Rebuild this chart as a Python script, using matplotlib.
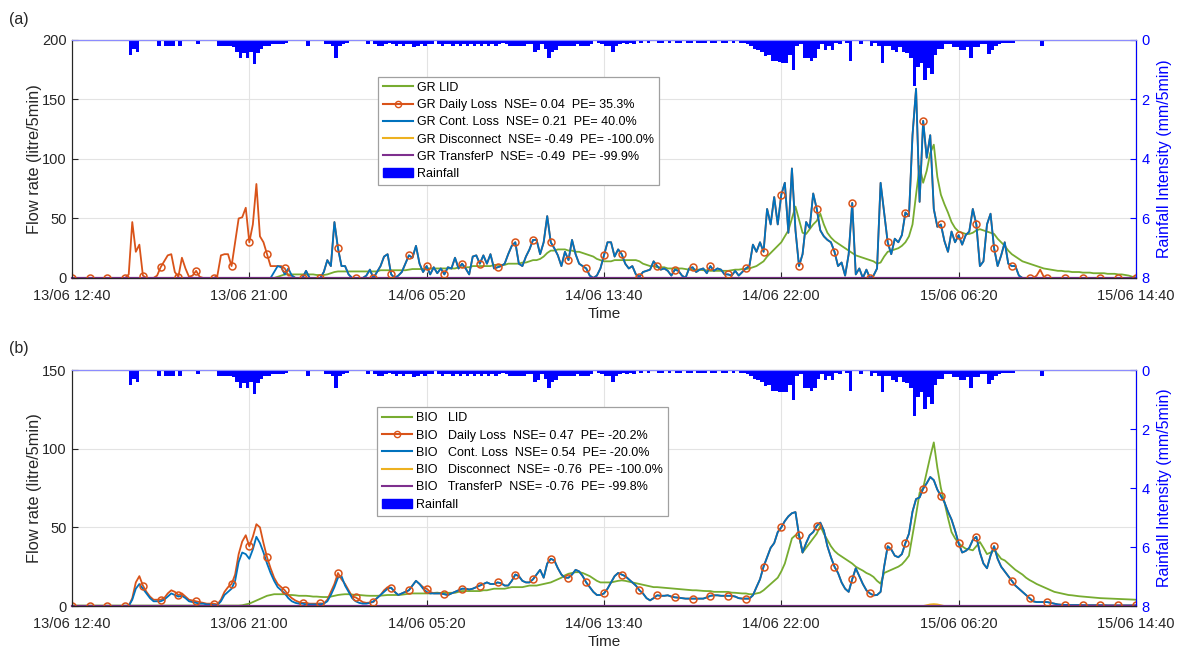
import numpy as np
import matplotlib
matplotlib.use('Agg')
import matplotlib.pyplot as plt
from matplotlib.patches import Patch
from matplotlib.lines import Line2D

plt.rcParams['font.family'] = ['Liberation Sans', 'DejaVu Sans']

# ---------------- data (10-minute samples from 13/06 12:40 to 15/06 14:40) ----------------
tick_labels = ['13/06 12:40', '13/06 21:00', '14/06 05:20', '14/06 13:40',
               '14/06 22:00', '15/06 06:20', '15/06 14:40']
step_min = 10

# ---- panel (a) GR ----
gr_lid = ([0]*50 +
  [0,0,0,0,0,0,0, 0,1,2, 3,3,3,3,3,3,3,3,3, 2.5,2.5,2.5, 3,4,5,5.5,
   5.5,5.5,5.5,5.5,5.5,5.5,5.5,5.5,5.5,5.5,5.5, 6.5,6.5,6.5,6.5,6.5,6.5,6.5,6.5, 7, 7.5,7.5,7.5,7.5] +
  [8,8,8,8,8,8,8,8,8,9, 9,9,9,10,10,10,10,10,10,11, 11,11,11,12,12,12,12,13,13,14,
   15,15,16,18,21,23,23,24,24,24, 23,23,22,22,21,20,19,18,16,15] +
  [14,14,14,15,15,15,15,15,15,15, 14,12,11,10,10,9,9,9,8,8, 8,8,8,7.5,7,7,7,7,6.5,6.5,
   6,6,6,6,6,6,6.5,7,7,7.5, 7.5,8,9,10,12,14,18,21,24,27] +
  [30,35,40,50,60,49,38,37,41,45, 48,54,45,38,34,31,29,27,25,23, 21,19,18,17,16,15,14,12,13,18,
   22,23,24,25,27,30,35,45,70,94, 80,90,105,112,85,70,62,55,47,42] +
  [39,38,37,37,38,40,41,40,39,38, 37,33,30,27,23,20,18,16,14,13, 12,11,10,9,8,7.5,7,6.5,6,6,
   5.5,5.5,5,5,5,4.5,4.5,4.5,4,4, 4,4,3.5,3.5,3.5,3,3,2.5,2,1,0.5])

gr_cont = ([0]*50 +
  [0,0,0,0,0,0, 0,5,10,9,3,8,2,0,0,0, 6,0,0,0,0,5,15,10,47,25, 10,10,3,0,0,0,0,2,7,0,
   5,10,18,20,3,0,2,5,12,19, 17,27,12,5] +
  [10,3,9,4,8,3,9,8,17,8, 12,8,3,18,19,12,19,12,20,8, 9,10,12,20,27,30,12,10,18,24,
   32,32,20,30,52,30,25,19,10,22, 15,32,20,12,10,8,2,0,2,8] +
  [19,30,30,18,24,20,12,8,10,3, 1,5,6,7,14,10,7,8,6,2, 7,6,2,0,8,9,5,7,8,4,
   10,6,8,7,3,3,2,6,2,5, 8,10,28,22,30,22,58,45,68,45] +
  [70,80,38,92,40,10,20,47,42,71, 58,40,35,32,30,22,10,13,2,20, 63,3,8,0,7,0,2,8,80,55,
   30,20,33,30,36,55,52,120,159,64, 132,101,120,58,43,45,31,22,39,30] +
  [36,28,36,39,58,45,10,14,45,54, 25,10,19,30,12,10,10,2,0,0] + [0]*31)

gr_daily_head = ([0]*16 +
  [3,47,22,28,2,0,0,0,2,9, 14,19,20,5,1,17,8,1,2,6, 1,0,0,0,0,2,19,20,20,10,
   30,50,51,59,30,45,79,35,30,20, 10,10,10,10,8,2])
gr_daily_tail = [0,0,0,0,2,7,1] + [0]*26
gr_daily = gr_daily_head + gr_cont[len(gr_daily_head):268] + gr_daily_tail

gr_disconnect = [0]*301
gr_transfer = [0]*301

# ---- panel (b) BIO ----
bio_lid = ([0.3]*48 + [0.5, 1] +
  [1.5,2.5,3.5,4.5,5.5,6.5,7,7.5,7.5,7.5, 7.5,7,7,6.8,6.5,6.5,6.5,6.3,6,6,
   5.8,5.7,5.7,6,6.5,7,7.3,7.5,7.5,7.3, 7,7,6.8,6.6,6.5,6.5,6.5,6.6,6.8,7,
   7,7,7,7.2,7.5,7.8,8,8,8,8] +
  [8,8,8.3,8.5,8.2,8.4,8.4,8.4,8.4,9, 9.5,9.5,9.5,9.5,9.5,9.5,10,10,10.5,11,
   11,11,11,11.5,12,12,12,12,12.5,13, 13,13,13.5,14,14.5,15,16,17,18,19.5,
   20.5,21,21.5,21.5,21,20,19,17.5,16,15] +
  [15,15,15,15.5,16,16.3,16,15.5,15,14.5, 14,13.5,13,12.5,12,12,11.8,11.6,11.4,11.2,
   11,10.8,10.6,10.4,10.2,10,10,9.8,9.6,9.5, 9.5,9,9,9,9,9,8.5,8.4,8.2,8,
   8,7.5,7.5,8,8.5,10,12,14,16,18] +
  [22,27,35,43,45,45,34,37,40,43, 46,51,46,42,38,35,33,31.5,30,28.5, 27,25,23.7,22.5,21,20,18.5,16,14.2,21,
   22,23,24,25,26.5,29,32,45,58,72, 75,85,95,104,88,75,66,56,47,43] +
  [40,38,36.4,36,35.4,38,40.7,37,33,34, 35.4,33,30,29,27,25,23,21.5,20,18,
   16.5,15.3,14,13,12,11,10,9,8.5,8, 7.5,7,6.8,6.5,6.2,6,5.8,5.6,5.4,5.2,
   5,4.9,4.8,4.7,4.6,4.5,4.4,4.3,4.2,4.1,4])

bio_cont = ([0]*17 +
  [4,11,14,11,8,5,3,3,3, 4,6,8,7,6,6.5,5,3,2.5,2, 1.5,1.5,1,1,0.5,0.5,3,7,9,11,
   16,28,34,33] +
  [30,36,44,40,34,27,21,16,12,10, 8,5,3,2,1.5,1.5,1,1,1,1, 1,1.5,3,7,12,18,19,13,9,5,
   3,2,1.5,1.5,2,3,5,7,9,11, 11.6,9,7,8,9,10,13,16,14,11] +
  [9,8,8,8,8,7.5,7,8,9,10, 11,11,10.5,11,12,13,14,15,14,14, 15,14.5,13,13,16,20,19,16,15,15,
   17,20,23,18,27,30,29,24,20,18, 18,20,23,22,19,15,12,9,7,7] +
  [8,11,15,19,21,20,19,17,15,13, 10,8,5,3.6,5,6.8,6.5,6.5,6.8,6, 5.5,5.3,5,4.7,4.7,4.7,4.7,4.7,4.7,5.5,
   6.5,6.8,6.8,6.5,6.5,6.5,6.5,6,5,4.7, 4.7,4.7,6.8,12,17,25,31,37,40,47] +
  [50,54,57,59,59.7,45,34,40,45,47, 51,53,48,38,31,25,21,15,11,9, 17,24,19,14,10,8,6.8,7,9,25,
   38,36,32,31,33,40,46,60,68,69, 74.6,78,82,80,74,70,66,60,55,48] +
  [40,34,35,37,42,44,34,27,24,32, 38,30,25,22,19,16,13,11,9,7, 5,3,2.5,2.5,2.5,2.5,2,1.5,1,0.8,
   0.7,0.6,0.6,0.6,0.6,0.5,0.5,0.5,0.5,0.5, 0.5,0.5,0.4,0.4,0.4,0.4,0.4,0.4,0.4,0.4,0.4])

bio_daily_head = ([0]*17 +
  [5,15,19,13,9,6,4,4,4, 5,8,10,9,7,8,6,4,3.5,3, 2.5,2,1.5,1.5,1.5,1,4,9,12,14,
   20,33,41,45] +
  [38,44,52,50,40,31,24,18,14,12, 10,7,5,3.5,2.5,2,2,1.5,1.5,1.5, 1.7,1.5,4,9,14,21,17,14,10,6,
   5.5,4,2.5,2,2.2,2.5,5,7,10,12, 11.6,9,7,8,9,10,13,16,14,12, 11,9,8,8])
bio_daily = bio_daily_head + bio_cont[len(bio_daily_head):]

bio_disconnect = [0]*241 + [0.5,1,1.2,1,0.5] + [0]*55
bio_transfer = [0]*301

# ---- rainfall (mm/5min), one bar per 10-min step, same event for both panels ----
rain = ([0]*16 + [0.5,0.3,0.4] + [0]*5 + [0.2,0,0.2,0.2,0.2,0, 0.2] + [0]*4 + [0.15] + [0]*5 +
  [0.2,0.2,0.2,0.2,0.25,0.4,0.6,0.45,0.6] +
  [0.4,0.82,0.45,0.3,0.2,0.2,0.15,0.15,0.15,0.15, 0.1,0,0,0,0,0,0.2,0,0,0,
   0,0.15,0.15,0.2,0.6,0.2,0.15,0.1,0,0, 0,0,0,0.15,0,0.15,0.2,0.2,0.15,0.1,
   0.15,0.2,0.15,0.2,0.15,0.15,0.25,0.2,0.15,0.2] +
  [0.15,0.15,0,0.15,0.2,0.15,0.15,0.2,0.15,0.2, 0.15,0.2,0.15,0.2,0.15,0.2,0.15,0.2,0.15,0.2,
   0.15,0.1,0.15,0.2,0.2,0.2,0.2,0.2,0.15,0.15, 0.4,0.35,0.15,0.3,0.6,0.4,0.35,0.2,0.2,0.2,
   0.2,0.2,0.15,0.2,0.2,0.2,0.15,0,0.1,0.15] +
  [0.2,0.2,0.4,0.2,0.15,0.1,0.15,0.1,0.15,0, 0.1,0,0.1,0,0,0.1,0.1,0,0.1,0,
   0.1,0.1,0,0.1,0.1,0,0.1,0.1,0.1,0, 0.1,0.1,0,0.1,0.1,0,0.1,0,0.1,0.1,
   0.15,0.2,0.3,0.35,0.4,0.55,0.5,0.7,0.7,0.75] +
  [0.76,0.76,0.5,1.0,0.2,0.15,0.6,0.6,0.7,0.6, 0.3,0.15,0.35,0.2,0.35,0.1,0.15,0,0.1,0.7,
   0,0,0.15,0,0,0.2,0.1,0.2,0.76,0.2, 0.2,0.35,0.4,0.25,0.4,0.45,0.6,1.55,0.9,0.76,
   1.33,0.93,1.16,0.5,0.3,0.3,0.15,0.15,0.25,0.25] +
  [0.35,0.35,0.25,0.6,0.25,0.25,0.15,0.15,0.48,0.35, 0.2,0.15,0.1,0.1,0.1,0.1,0,0,0,0,
   0,0,0,0.2] + [0]*26)

legend_a = ['GR LID', 'GR Daily Loss  NSE= 0.04  PE= 35.3%', 'GR Cont. Loss  NSE= 0.21  PE= 40.0%',
            'GR Disconnect  NSE= -0.49  PE= -100.0%', 'GR TransferP  NSE= -0.49  PE= -99.9%', 'Rainfall']
legend_b = ['BIO   LID', 'BIO   Daily Loss  NSE= 0.47  PE= -20.2%', 'BIO   Cont. Loss  NSE= 0.54  PE= -20.0%',
            'BIO   Disconnect  NSE= -0.76  PE= -100.0%', 'BIO   TransferP  NSE= -0.76  PE= -99.8%', 'Rainfall']

# sanity check of lengths
_chk = {'gr_lid': gr_lid, 'gr_cont': gr_cont, 'gr_daily': gr_daily, 'bio_lid': bio_lid,
        'bio_cont': bio_cont, 'bio_daily': bio_daily, 'bio_disconnect': bio_disconnect}
_bad = {k: len(v) for k, v in _chk.items() if len(v) != 301}
if _bad or len(rain) != 300:
    raise ValueError(f"length mismatch {_bad} rain={len(rain)}")

t = np.arange(301) * step_min

# ---------------- styling ----------------
C_LID = '#77AC30'
C_DAILY = '#D95319'
C_CONT = '#0072BD'
C_DISC = '#EDB120'
C_TRANS = '#7E2F8E'
C_RAIN = '#0000FF'
C_AX = '#262626'

fig = plt.figure(figsize=(11.78, 6.51), dpi=100)
ax_a = fig.add_axes([0.0611, 0.573, 0.9032, 0.3656])
ax_b = fig.add_axes([0.0611, 0.0691, 0.9032, 0.3625])


def draw(ax, lid, daily, cont, disc, trans, ymax, yticks, labels, anchor):
    ax.plot(t, lid, color=C_LID, lw=1.3)
    ax.plot(t, daily, color=C_DAILY, lw=1.3)
    ax.plot(t, cont, color=C_CONT, lw=1.3)
    ax.plot(t, disc, color=C_DISC, lw=1.3, clip_on=False)
    ax.plot(t, trans, color=C_TRANS, lw=1.6, clip_on=False)
    ax.plot(t, daily, ls='none', marker='o', ms=5, mfc='none', mec=C_DAILY, mew=1.1, markevery=5)
    ax.set_xlim(0, 3000)
    ax.set_ylim(0, ymax)
    ax.set_yticks(yticks)
    ax.set_xticks(np.arange(0, 3001, 500))
    ax.set_xticklabels(tick_labels)
    ax.grid(True, color='#e3e3e3', lw=0.8)
    ax.set_axisbelow(True)
    ax.tick_params(axis='y', direction='in', length=4, colors=C_AX, labelsize=10.5, pad=4)
    ax.tick_params(axis='x', direction='in', length=4, colors=C_AX, labelsize=10.5, pad=8)
    for s in ('left', 'bottom'):
        ax.spines[s].set_color(C_AX)
        ax.spines[s].set_linewidth(0.8)
    ax.set_ylabel('Flow rate (litre/5min)', fontsize=11.8, color=C_AX, labelpad=0)
    ax.set_xlabel('Time', fontsize=11, color=C_AX, labelpad=3)

    axr = ax.twinx()
    axr.bar(t[:-1], rain, width=step_min, align='edge', color=C_RAIN, linewidth=0)
    axr.set_ylim(8, 0)
    axr.set_yticks([0, 2, 4, 6, 8])
    axr.tick_params(direction='in', length=4, colors=C_RAIN, labelsize=10.5, pad=4)
    axr.spines['right'].set_color(C_RAIN)
    axr.spines['top'].set_color('#8c8cff')
    axr.spines['left'].set_color(C_AX)
    axr.spines['bottom'].set_color(C_AX)
    axr.set_ylabel('Rainfall Intensity (mm/5min)', fontsize=11.5, color=C_RAIN, labelpad=5)

    handles = [Line2D([], [], color=C_LID, lw=1.5),
               Line2D([], [], color=C_DAILY, lw=1.5, marker='o', ms=4.5, mfc='none', mew=1),
               Line2D([], [], color=C_CONT, lw=1.5),
               Line2D([], [], color=C_DISC, lw=1.5),
               Line2D([], [], color=C_TRANS, lw=1.5),
               Patch(facecolor=C_RAIN, edgecolor=C_RAIN)]
    leg = axr.legend(handles, labels, loc='upper left', bbox_to_anchor=anchor,
                     bbox_transform=ax.transAxes, fontsize=9, frameon=True, fancybox=False,
                     edgecolor='#a0a0a0', framealpha=1, handlelength=2.4, handletextpad=0.3,
                     borderpad=0.4, labelspacing=0.42, borderaxespad=0)
    leg.get_frame().set_linewidth(0.9)
    return axr


draw(ax_a, gr_lid, gr_daily, gr_cont, gr_disconnect, gr_transfer, 200, [0, 50, 100, 150, 200],
     legend_a, (0.288, 0.845))
draw(ax_b, bio_lid, bio_daily, bio_cont, bio_disconnect, bio_transfer, 150, [0, 50, 100, 150],
     legend_b, (0.287, 0.842))

fig.text(0.008, 0.982, '(a)', fontsize=11.5, va='top', ha='left', color=C_AX)
fig.text(0.008, 0.476, '(b)', fontsize=11.5, va='top', ha='left', color=C_AX)

fig.savefig('out.png', dpi=100, facecolor='white')
